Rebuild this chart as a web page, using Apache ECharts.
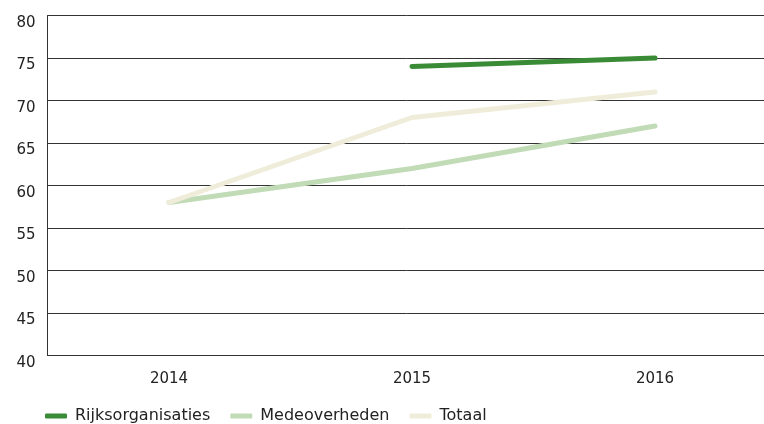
<!DOCTYPE html>
<html><head><meta charset="utf-8">
<script src="https://cdn.jsdelivr.net/npm/echarts@6/dist/echarts.min.js"></script>
<style>html,body{margin:0;padding:0;background:#fff}#c{width:764px;height:424px}</style>
</head><body><div id="c"></div>
<script>
const categories = ['2014', '2015', '2016'];
const rijksorganisaties = [null, 74, 75];
const medeoverheden = [58, 62, 67];
const totaal = [58, 68, 71];
const seriesNames = ['Rijksorganisaties', 'Medeoverheden', 'Totaal'];
const colors = ['#3a8b35', '#c0dbb5', '#efedda'];

const chart = echarts.init(document.getElementById('c'));
const font = '"DejaVu Sans", "Noto Sans", sans-serif';
const mk = (name, data, color, z) => ({
  name, type: 'line', data, symbol: 'none', z,
  lineStyle: { width: 5, color, cap: 'round' }, itemStyle: { color },
  connectNulls: false
});
chart.setOption({
  animation: false,
  textStyle: { fontFamily: font },
  grid: { left: 47.5, top: 15.5, width: 729, height: 340, outerBoundsMode: 'none', containLabel: false },
  xAxis: {
    type: 'category', data: categories, boundaryGap: true,
    axisLine: { lineStyle: { color: '#333', width: 1 } },
    axisTick: { show: false },
    axisLabel: { color: '#222', fontSize: 15, fontFamily: font, margin: 16 },
    splitLine: { show: false }
  },
  yAxis: {
    type: 'value', min: 40, max: 80, interval: 5,
    axisLine: { show: true, lineStyle: { color: '#333', width: 1 } },
    axisTick: { show: false },
    axisLabel: { color: '#222', fontSize: 15, fontFamily: font, margin: 12, verticalAlign: 'top', lineHeight: 15 },
    splitLine: { lineStyle: { color: '#333', width: 1 } }
  },
  legend: {
    left: 40, top: 403, itemWidth: 22, itemHeight: 5, itemGap: 20,
    icon: 'roundRect',
    textStyle: { color: '#222', fontSize: 16, fontFamily: font, padding: [0, 0, 0, 3] },
    data: seriesNames
  },
  series: [
    mk(seriesNames[0], rijksorganisaties, colors[0], 4),
    mk(seriesNames[1], medeoverheden, colors[1], 2),
    mk(seriesNames[2], totaal, colors[2], 3)
  ]
});
</script></body></html>
